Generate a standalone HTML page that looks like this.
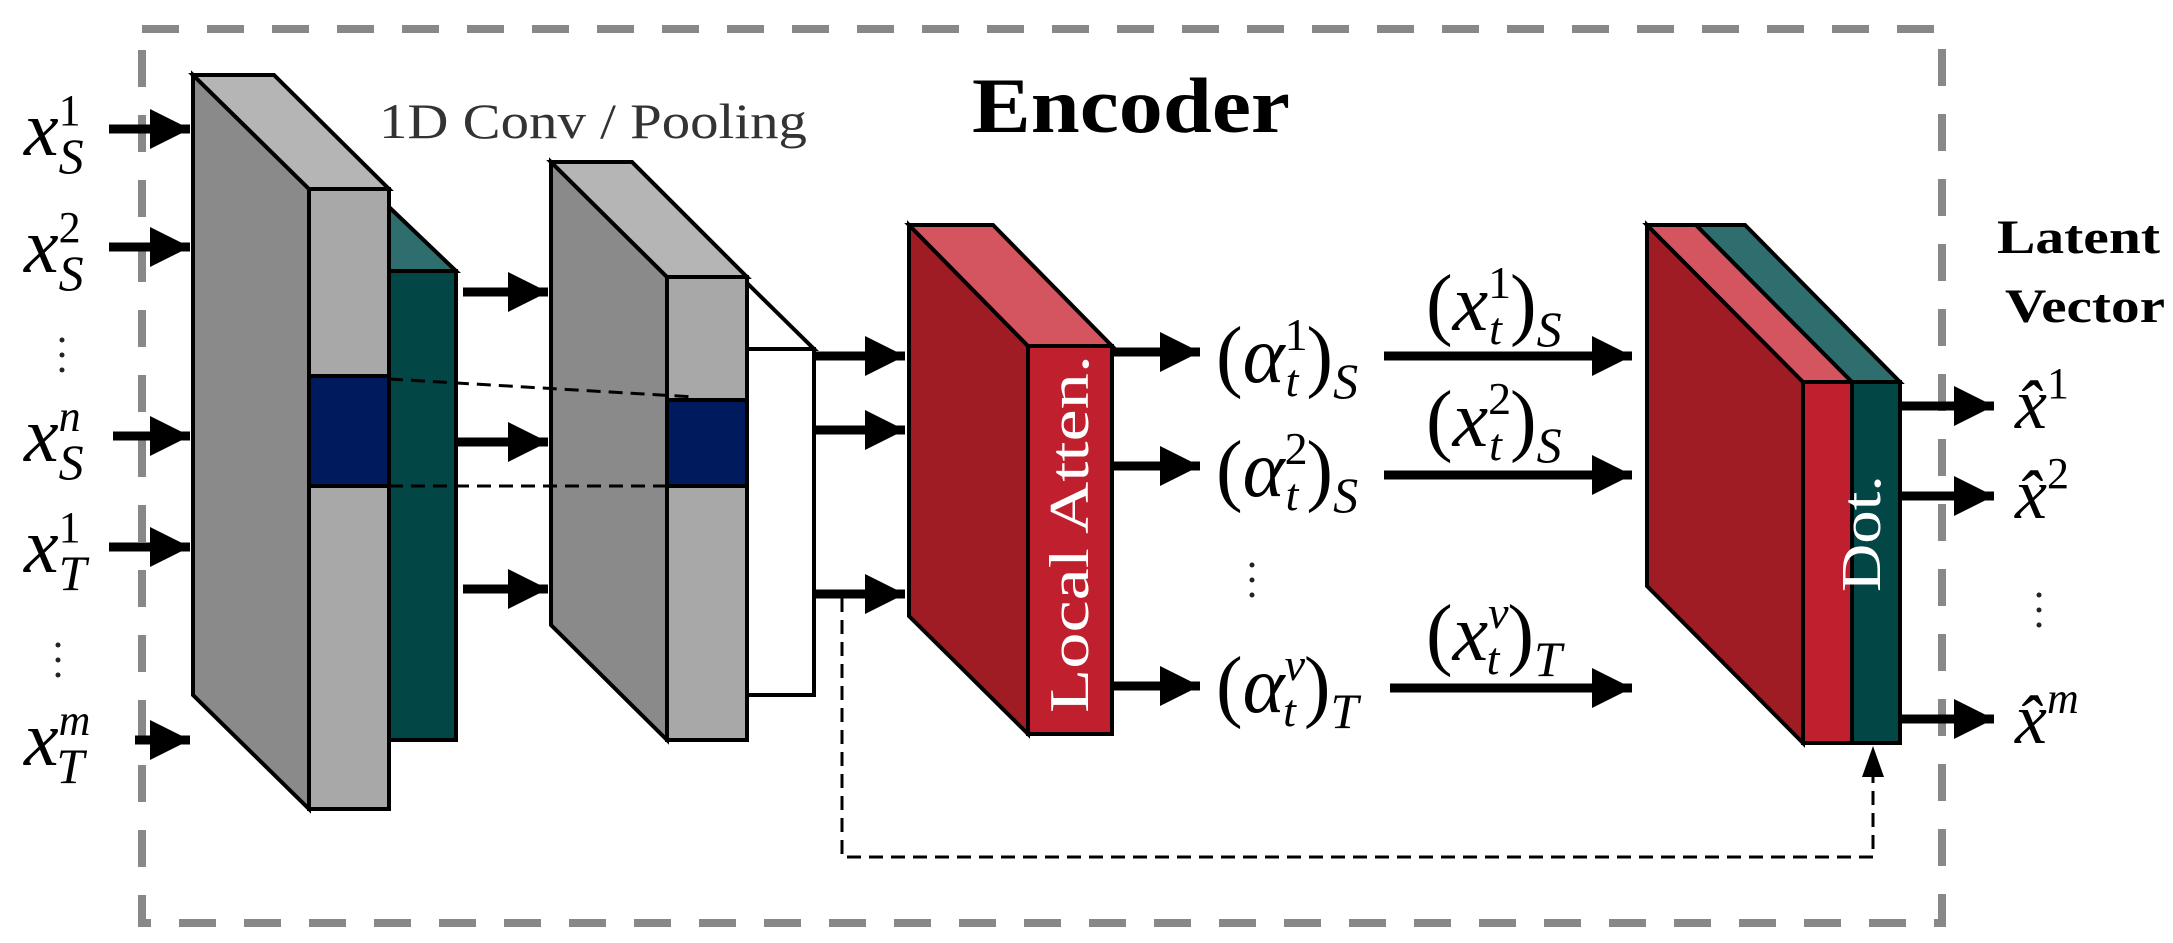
<!DOCTYPE html>
<html><head><meta charset="utf-8"><style>html,body{margin:0;padding:0;background:#fff}svg{display:block}</style></head>
<body>
<svg width="2173" height="943" viewBox="0 0 2173 943" xmlns="http://www.w3.org/2000/svg">
<defs>
<marker id="ah" markerWidth="40" markerHeight="40" refX="10" refY="5" orient="auto" markerUnits="userSpaceOnUse" viewBox="0 0 10 10"><path d="M0,0 L10,5 L0,10 z" fill="#000"/></marker>
</defs>
<rect x="142" y="29" width="1800" height="894" fill="none" stroke="#888" stroke-width="8" stroke-dasharray="37,28"/>

<g stroke="#000" stroke-width="4" stroke-linejoin="miter">
<polygon points="193,75 309,189 309,809 193,695" fill="#8a8a8a"/>
<polygon points="193,75 274,75 389,189 309,189" fill="#b5b5b5"/>
<polygon points="389,207 456,271 389,271" fill="#2e6e6e"/>
<rect x="389" y="271" width="67" height="469" fill="#024646"/>
<rect x="309" y="189" width="80" height="620" fill="#a8a8a8"/>
<rect x="309" y="376" width="80" height="110" fill="#001a5e"/>
<polygon points="551,162 667,277 667,740 551,625" fill="#8a8a8a"/>
<polygon points="551,162 632,162 747,277 667,277" fill="#b5b5b5"/>
<polygon points="747,283 814,349 747,349" fill="#fff"/>
<rect x="747" y="349" width="67" height="346" fill="#fff"/>
<rect x="667" y="277" width="80" height="463" fill="#a8a8a8"/>
<rect x="667" y="400" width="80" height="86" fill="#001a5e"/>
<polygon points="909,225 1028,346 1028,734 909,616" fill="#a01c25"/>
<polygon points="909,225 993,225 1112,346 1028,346" fill="#d45560"/>
<rect x="1028" y="346" width="84" height="388" fill="#c0202e"/>
<polygon points="1647,225 1803,382 1803,743 1647,586" fill="#a01c25"/>
<polygon points="1647,225 1696,225 1852,382 1803,382" fill="#d45560"/>
<polygon points="1696,225 1745,225 1900,382 1852,382" fill="#2e6e6e"/>
<rect x="1803" y="382" width="49" height="361" fill="#c0202e"/>
<rect x="1852" y="382" width="48" height="361" fill="#024646"/>
</g>

<g stroke="#000" stroke-width="3" stroke-dasharray="14,8" fill="none">
<line x1="389" y1="379" x2="695" y2="397"/>
<line x1="389" y1="486" x2="667" y2="486"/>
<polyline points="842,598 842,857 1873,857 1873,775"/>
</g>
<polygon points="1862,777 1884,777 1873,746" fill="#000"/>

<g stroke="#000" stroke-width="9" marker-end="url(#ah)" fill="none">
<line x1="109" y1="129" x2="190" y2="129"/>
<line x1="109" y1="247" x2="190" y2="247"/>
<line x1="113" y1="436" x2="190" y2="436"/>
<line x1="109" y1="547" x2="190" y2="547"/>
<line x1="135" y1="740" x2="190" y2="740"/>
<line x1="463" y1="292" x2="548" y2="292"/>
<line x1="456" y1="442" x2="548" y2="442"/>
<line x1="463" y1="589" x2="548" y2="589"/>
<line x1="814" y1="356" x2="905" y2="356"/>
<line x1="814" y1="430" x2="905" y2="430"/>
<line x1="814" y1="594" x2="905" y2="594"/>
<line x1="1112" y1="352" x2="1200" y2="352"/>
<line x1="1112" y1="466" x2="1200" y2="466"/>
<line x1="1112" y1="686" x2="1200" y2="686"/>
<line x1="1384" y1="356" x2="1632" y2="356"/>
<line x1="1384" y1="475" x2="1632" y2="475"/>
<line x1="1390" y1="688" x2="1632" y2="688"/>
<line x1="1900" y1="406" x2="1994" y2="406"/>
<line x1="1900" y1="496" x2="1994" y2="496"/>
<line x1="1900" y1="719" x2="1994" y2="719"/>
</g>

<g font-family="Liberation Serif, serif">
<text x="379" y="138" font-size="50" fill="#333" textLength="428" lengthAdjust="spacingAndGlyphs">1D Conv / Pooling</text>
<text x="972" y="132" font-size="78" font-weight="bold" textLength="318" lengthAdjust="spacingAndGlyphs">Encoder</text>
<text x="1997" y="253" font-size="48" font-weight="bold" textLength="163" lengthAdjust="spacingAndGlyphs">Latent</text>
<text x="2005" y="322" font-size="48" font-weight="bold" textLength="160" lengthAdjust="spacingAndGlyphs">Vector</text>
<text transform="translate(1088,713) rotate(-90)" font-size="56" fill="#fff" textLength="358" lengthAdjust="spacingAndGlyphs">Local Atten.</text>
<text transform="translate(1880,592) rotate(-90)" font-size="56" fill="#fff" textLength="117" lengthAdjust="spacingAndGlyphs">Dot.</text>
</g>
<g font-family="Liberation Serif, serif" font-style="italic" font-size="78">
<text x="24" y="155">x<tspan font-size="44" dy="-30" font-style="normal">1</tspan><tspan font-size="50" dx="-22" dy="48">S</tspan></text>
<text x="24" y="272">x<tspan font-size="44" dy="-30" font-style="normal">2</tspan><tspan font-size="50" dx="-22" dy="48">S</tspan></text>
<text x="24" y="461">x<tspan font-size="44" dy="-30">n</tspan><tspan font-size="50" dx="-22" dy="48">S</tspan></text>
<text x="24" y="572">x<tspan font-size="44" dy="-30" font-style="normal">1</tspan><tspan font-size="50" dx="-22" dy="48">T</tspan></text>
<text x="24" y="765">x<tspan font-size="44" dy="-30">m</tspan><tspan font-size="50" dx="-34" dy="48">T</tspan></text>
</g>
<g font-family="Liberation Serif, serif" font-style="italic" font-size="80">
<text x="1216" y="382"><tspan font-style="normal">(</tspan>α<tspan font-size="46" dy="-32" font-style="normal">1</tspan><tspan font-size="46" dx="-22" dy="46">t</tspan><tspan font-style="normal" dx="8" dy="-14">)</tspan><tspan font-size="50" dy="16">S</tspan></text>
<text x="1216" y="496"><tspan font-style="normal">(</tspan>α<tspan font-size="46" dy="-32" font-style="normal">2</tspan><tspan font-size="46" dx="-22" dy="46">t</tspan><tspan font-style="normal" dx="8" dy="-14">)</tspan><tspan font-size="50" dy="16">S</tspan></text>
<text x="1216" y="712"><tspan font-style="normal">(</tspan>α<tspan font-size="46" dy="-32">v</tspan><tspan font-size="46" dx="-22" dy="46">t</tspan><tspan font-style="normal" dx="8" dy="-14">)</tspan><tspan font-size="50" dy="16">T</tspan></text>

<text x="1426" y="330"><tspan font-style="normal">(</tspan>x<tspan font-size="46" dy="-32" font-style="normal">1</tspan><tspan font-size="46" dx="-22" dy="46">t</tspan><tspan font-style="normal" dx="8" dy="-14">)</tspan><tspan font-size="50" dy="16">S</tspan></text>
<text x="1426" y="446"><tspan font-style="normal">(</tspan>x<tspan font-size="46" dy="-32" font-style="normal">2</tspan><tspan font-size="46" dx="-22" dy="46">t</tspan><tspan font-style="normal" dx="8" dy="-14">)</tspan><tspan font-size="50" dy="16">S</tspan></text>
<text x="1426" y="660"><tspan font-style="normal">(</tspan>x<tspan font-size="46" dy="-32">v</tspan><tspan font-size="46" dx="-22" dy="46">t</tspan><tspan font-style="normal" dx="8" dy="-14">)</tspan><tspan font-size="50" dy="16">T</tspan></text>
</g>
<g font-family="Liberation Serif, serif" font-style="italic" font-size="72">
<text x="2015" y="428">x̂<tspan font-size="44" dy="-30" font-style="normal">1</tspan></text>
<text x="2015" y="518">x̂<tspan font-size="44" dy="-30" font-style="normal">2</tspan></text>
<text x="2015" y="743">x̂<tspan font-size="44" dy="-30">m</tspan></text>
</g>
<g fill="#222">
<circle cx="62" cy="340" r="2.5"/><circle cx="62" cy="355" r="2.5"/><circle cx="62" cy="370" r="2.5"/>
<circle cx="58" cy="645" r="2.5"/><circle cx="58" cy="660" r="2.5"/><circle cx="58" cy="675" r="2.5"/>
<circle cx="1252" cy="565" r="2.5"/><circle cx="1252" cy="580" r="2.5"/><circle cx="1252" cy="595" r="2.5"/>
<circle cx="2039" cy="595" r="2.5"/><circle cx="2039" cy="610" r="2.5"/><circle cx="2039" cy="625" r="2.5"/>
</g>
</svg>
</body></html>
